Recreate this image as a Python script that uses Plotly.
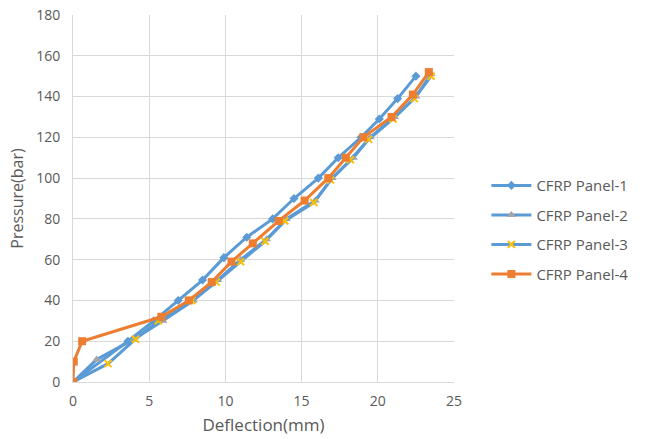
import plotly.graph_objects as go

p1_x = [0, 3.6, 5.3, 6.9, 8.5, 9.9, 11.4, 13.1, 14.5, 16.1, 17.4, 18.9, 20.1, 21.3, 22.5]
p1_y = [0, 20, 30, 40, 50, 61, 71, 80, 90, 100, 110, 120, 129, 139, 150]

p2_x = [0, 1.55, 4.0, 5.9, 7.9, 9.5, 11.0, 12.7, 14.0, 15.9, 17.0, 18.4, 19.5, 21.1, 22.5, 23.5]
p2_y = [0, 11, 21, 30, 40, 50, 60, 70, 80, 89, 100, 110, 120, 130, 140, 151]

p3_x = [0, 2.3, 4.1, 5.6, 7.8, 9.4, 11.0, 12.6, 13.9, 15.8, 16.9, 18.2, 19.4, 21.0, 22.4, 23.5]
p3_y = [0, 9, 21, 30, 40, 49, 59, 69, 79, 88, 99, 109, 119, 129, 139, 150]

p4_x = [0, 0.05, 0.6, 5.8, 7.6, 9.1, 10.4, 11.8, 13.5, 15.2, 16.75, 17.9, 19.05, 20.9, 22.3, 23.35]
p4_y = [0, 10, 20, 32, 40, 49, 59, 68, 79, 89, 100, 110, 120, 130, 141, 152]

names = ["CFRP Panel-1", "CFRP Panel-2", "CFRP Panel-3", "CFRP Panel-4"]
x_ticks = [0, 5, 10, 15, 20, 25]
y_ticks = [0, 20, 40, 60, 80, 100, 120, 140, 160, 180]

BLUE = "#5B9BD5"
ORANGE = "#ED7D31"
GRAY = "#A5A5A5"
YELLOW = "#FFC000"
TXT = "#595959"

fig = go.Figure()
fig.add_trace(go.Scatter(x=p1_x, y=p1_y, name=names[0], mode="lines+markers", legendgroup="a",
                         line=dict(color=BLUE, width=3),
                         marker=dict(symbol="diamond", size=7, color=BLUE)))
fig.add_trace(go.Scatter(x=p2_x, y=p2_y, name=names[1], mode="lines+markers", legendgroup="b",
                         line=dict(color=BLUE, width=3),
                         marker=dict(symbol="triangle-up", size=8, color=GRAY)))
fig.add_trace(go.Scatter(x=p3_x, y=p3_y, name=names[2], mode="lines+markers", legendgroup="c",
                         line=dict(color=BLUE, width=3),
                         marker=dict(symbol="x-thin", size=7, color=YELLOW,
                                     line=dict(color=YELLOW, width=2))))
fig.add_trace(go.Scatter(x=p4_x, y=p4_y, name=names[3], mode="lines+markers", legendgroup="d",
                         line=dict(color=ORANGE, width=3),
                         marker=dict(symbol="square", size=8, color=ORANGE)))

fig.update_layout(
    width=650, height=439,
    margin=dict(l=73, r=196, t=15, b=57),
    paper_bgcolor="white", plot_bgcolor="white",
    font=dict(family="Open Sans, Noto Sans, sans-serif", color=TXT, size=14),
    legend=dict(x=1.085, y=0.58, xanchor="left", yanchor="top", itemwidth=40,
                font=dict(size=15, color=TXT), tracegroupgap=7,
                bgcolor="rgba(0,0,0,0)"),
    xaxis=dict(range=[0, 25], tickvals=x_ticks, showgrid=True, gridcolor="#D9D9D9",
               gridwidth=1, zeroline=False, showline=True, linecolor="#D9D9D9",
               ticks="", ticklabelstandoff=6, automargin=False,
               title=dict(text="Deflection(mm)", standoff=10,
                          font=dict(size=17, color=TXT)),
               tickfont=dict(size=14, color=TXT)),
    yaxis=dict(range=[0, 180], tickvals=y_ticks, showgrid=True, gridcolor="#D9D9D9",
               gridwidth=1, zeroline=False, showline=True, linecolor="#D9D9D9",
               ticks="", ticklabelstandoff=9, automargin=False,
               title=dict(text="Pressure(bar)", standoff=8,
                          font=dict(size=16, color=TXT)),
               tickfont=dict(size=14, color=TXT)),
)

fig.write_html("out.html")
